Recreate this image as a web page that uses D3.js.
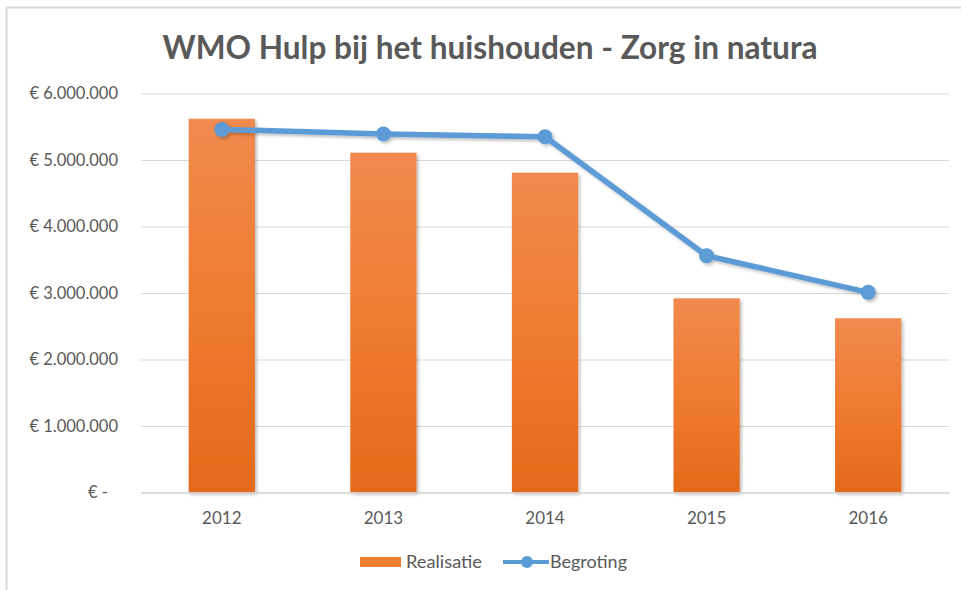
<!DOCTYPE html>
<html>
<head>
<meta charset="utf-8">
<script src="https://cdn.jsdelivr.net/npm/d3@7"></script>
<style>
  html, body { margin: 0; padding: 0; background: #fff; }
  svg { display: block; }
</style>
</head>
<body>
<svg id="chart" width="961" height="590"></svg>
<script>
const years = ["2012", "2013", "2014", "2015", "2016"];
const realisatie = [5620000, 5110000, 4810000, 2920000, 2620000];
const begroting = [5460000, 5390000, 5350000, 3560000, 3010000];
const yTicks = [0, 1000000, 2000000, 3000000, 4000000, 5000000, 6000000];
const title = "WMO Hulp bij het huishouden - Zorg in natura";
const seriesNames = ["Realisatie", "Begroting"];

(function () {
const svg = d3.select("#chart");
const W = 961, H = 590;
const font = "Lato, 'Open Sans', sans-serif";
const textColor = "#595959";

const defs = svg.append("defs");
const grad = defs.append("linearGradient").attr("id", "barGrad")
  .attr("x1", 0).attr("y1", 0).attr("x2", 0).attr("y2", 1);
grad.append("stop").attr("offset", "0%").attr("stop-color", "#f08a4e");
grad.append("stop").attr("offset", "50%").attr("stop-color", "#f07b30");
grad.append("stop").attr("offset", "100%").attr("stop-color", "#e4691b");

const shadow = defs.append("filter").attr("id", "shadow")
  .attr("x", "-20%").attr("y", "-20%").attr("width", "150%").attr("height", "150%");
shadow.append("feDropShadow").attr("dx", 2).attr("dy", 2).attr("stdDeviation", 1.5)
  .attr("flood-color", "#000").attr("flood-opacity", 0.25);

// frame
svg.append("rect").attr("x", 0).attr("y", 0).attr("width", W).attr("height", H).attr("fill", "#fff");
svg.append("line").attr("x1", 6.5).attr("x2", W).attr("y1", 7.5).attr("y2", 7.5)
  .attr("stroke", "#d9d9d9").attr("stroke-width", 2);
svg.append("line").attr("x1", 6.5).attr("x2", 6.5).attr("y1", 7.5).attr("y2", H)
  .attr("stroke", "#d9d9d9").attr("stroke-width", 2);

const pLeft = 141, pRight = 949, pTop = 93.5, pBottom = 492.5;

const x = d3.scaleBand().domain(years).range([pLeft, pRight]).paddingInner(0.59).paddingOuter(0.295);
const y = d3.scaleLinear().domain([0, 6000000]).range([pBottom, pTop]);

// title
svg.append("text").attr("x", 490).attr("y", 59).attr("text-anchor", "middle")
  .attr("font-family", font).attr("font-weight", "bold").attr("font-size", 32)
  .attr("fill", textColor).attr("textLength", 655).attr("lengthAdjust", "spacingAndGlyphs")
  .text(title);

// gridlines
const fmt = v => v === 0 ? "€ -" : "€ " + d3.format(",")(v).replace(/,/g, ".");
const gy = svg.append("g").attr("transform", `translate(${pLeft},0)`)
  .call(d3.axisLeft(y).tickValues(yTicks).tickSize(-(pRight - pLeft)).tickPadding(23).tickFormat(fmt));
gy.select(".domain").remove();
gy.selectAll(".tick line").attr("stroke", "#d9d9d9").attr("stroke-width", 1);
gy.selectAll(".tick text").attr("font-family", font).attr("font-size", 16.5).attr("fill", textColor);
gy.selectAll(".tick").filter(d => d === 0).select("text").attr("dx", -10);

// bars
svg.append("g").selectAll("rect").data(years).join("rect")
  .attr("x", d => x(d)).attr("width", x.bandwidth())
  .attr("y", (d, i) => y(realisatie[i]))
  .attr("height", (d, i) => y(0) - y(realisatie[i]))
  .attr("fill", "url(#barGrad)").attr("filter", "url(#shadow)");

// x axis
const gx = svg.append("g").attr("transform", `translate(0,${pBottom})`)
  .call(d3.axisBottom(x).tickSize(0).tickPadding(19));
gx.select(".domain").attr("stroke", "#d9d9d9").attr("stroke-width", 1.5);
gx.selectAll(".tick text").attr("font-family", font).attr("font-size", 17).attr("fill", textColor);

// line
const lineColor = "#5b9bd5";
const line = d3.line().x((d, i) => x(years[i]) + x.bandwidth() / 2).y(d => y(d));
const lg = svg.append("g").attr("filter", "url(#shadow)");
lg.append("path").datum(begroting).attr("d", line).attr("fill", "none")
  .attr("stroke", lineColor).attr("stroke-width", 5.5).attr("stroke-linejoin", "round");
lg.selectAll("circle").data(begroting).join("circle")
  .attr("cx", (d, i) => x(years[i]) + x.bandwidth() / 2).attr("cy", d => y(d))
  .attr("r", 7.5).attr("fill", lineColor);

// legend
const leg = svg.append("g");
leg.append("rect").attr("x", 360).attr("y", 557).attr("width", 41).attr("height", 10).attr("fill", "#ed7d31");
leg.append("text").attr("x", 406).attr("y", 568).attr("font-family", font).attr("font-size", 18)
  .attr("fill", textColor).attr("textLength", 76).attr("lengthAdjust", "spacingAndGlyphs").text(seriesNames[0]);
leg.append("line").attr("x1", 503).attr("x2", 549).attr("y1", 562).attr("y2", 562)
  .attr("stroke", lineColor).attr("stroke-width", 4);
leg.append("circle").attr("cx", 527).attr("cy", 562).attr("r", 6).attr("fill", lineColor);
leg.append("text").attr("x", 550).attr("y", 568).attr("font-family", font).attr("font-size", 18)
  .attr("fill", textColor).attr("textLength", 77).attr("lengthAdjust", "spacingAndGlyphs").text(seriesNames[1]);
})();
</script>
</body>
</html>
